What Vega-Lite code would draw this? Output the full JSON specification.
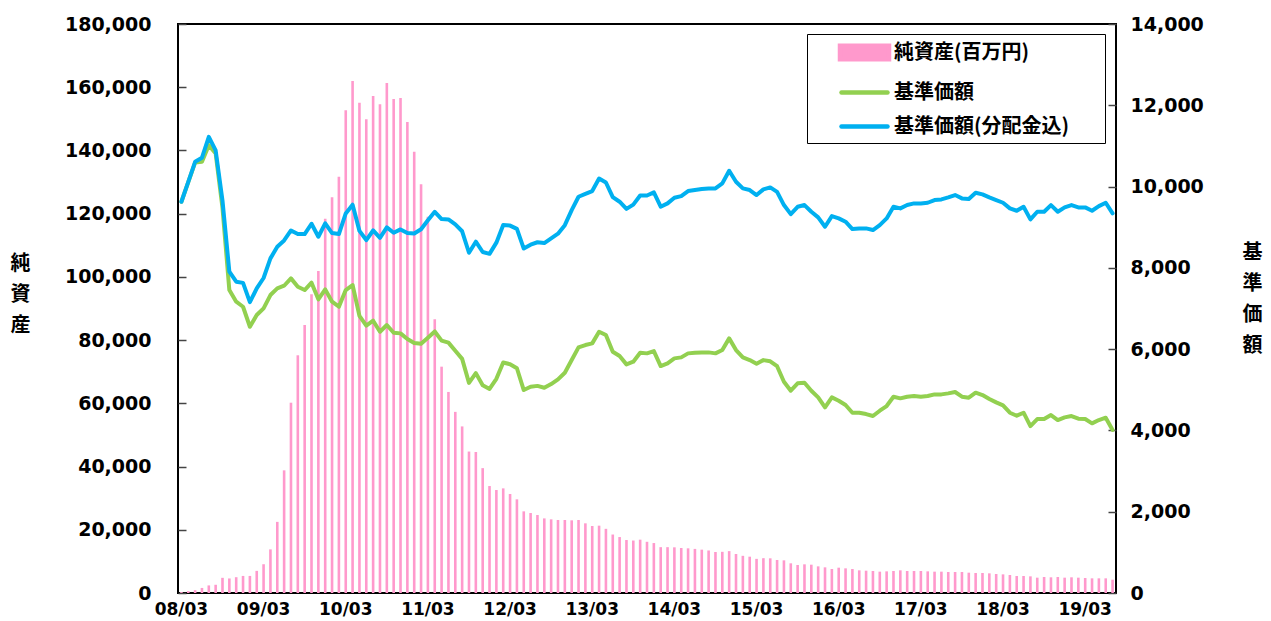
{
"$schema":"https://vega.github.io/schema/vega-lite/v6.json",
"width":938,"height":569,
"autosize":{"type":"none"},
"padding":{"left":178,"top":24,"right":155,"bottom":28},
"background":"white",
"config":{"view":{"stroke":"#000","strokeWidth":2},"axis":{"grid":false,"domain":false}},
"data":{"values":[
{"m":"08/03","純資産":300,"基準価額":9626,"基準価額(分配金込)":9626},
{"m":"08/04","純資産":600,"基準価額":10110,"基準価額(分配金込)":10118},
{"m":"08/05","純資産":900,"基準価額":10590,"基準価額(分配金込)":10610},
{"m":"08/06","純資産":1600,"基準価額":10610,"基準価額(分配金込)":10710},
{"m":"08/07","純資産":2400,"基準価額":11020,"基準価額(分配金込)":11225},
{"m":"08/08","純資産":2600,"基準価額":10815,"基準価額(分配金込)":10890},
{"m":"08/09","純資産":4800,"基準価額":9470,"基準価額(分配金込)":9650},
{"m":"08/10","純資産":4600,"基準価額":7454,"基準価額(分配金込)":7905},
{"m":"08/11","純資産":5000,"基準価額":7167,"基準価額(分配金込)":7660},
{"m":"08/12","純資産":5400,"基準価額":7043,"基準価額(分配金込)":7630},
{"m":"09/01","純資産":5400,"基準価額":6551,"基準価額(分配金込)":7155},
{"m":"09/02","純資産":7000,"基準価額":6839,"基準価額(分配金込)":7495},
{"m":"09/03","純資産":9100,"基準価額":7004,"基準価額(分配金込)":7750},
{"m":"09/04","純資産":13800,"基準価額":7331,"基準価額(分配金込)":8233},
{"m":"09/05","純資産":22500,"基準価額":7495,"基準価額(分配金込)":8520},
{"m":"09/06","純資産":38800,"基準価額":7560,"基準価額(分配金込)":8675},
{"m":"09/07","純資産":60200,"基準価額":7741,"基準価額(分配金込)":8920},
{"m":"09/08","純資産":75200,"基準価額":7536,"基準価額(分配金込)":8831},
{"m":"09/09","純資産":84800,"基準価額":7454,"基準価額(分配金込)":8831},
{"m":"09/10","純資産":94500,"基準価額":7634,"基準価額(分配金込)":9085},
{"m":"09/11","純資産":101900,"基準価額":7225,"基準価額(分配金込)":8766},
{"m":"09/12","純資産":118400,"基準価額":7470,"基準価額(分配金込)":9094},
{"m":"10/01","純資産":125200,"基準価額":7167,"基準価額(分配金込)":8856},
{"m":"10/02","純資産":131700,"基準価額":7044,"基準価額(分配金込)":8831},
{"m":"10/03","純資産":152700,"基準価額":7454,"基準価額(分配金込)":9340},
{"m":"10/04","純資産":162000,"基準価額":7577,"基準価額(分配金込)":9553},
{"m":"10/05","純資産":155100,"基準価額":6820,"基準価額(分配金込)":8910},
{"m":"10/06","純資産":149900,"基準価額":6580,"基準価額(分配金込)":8684},
{"m":"10/07","純資産":157200,"基準価額":6700,"基準価額(分配金込)":8920},
{"m":"10/08","純資産":154600,"基準価額":6428,"基準価額(分配金込)":8738},
{"m":"10/09","純資産":161300,"基準価額":6593,"基準価額(分配金込)":8996},
{"m":"10/10","純資産":156300,"基準価額":6404,"基準価額(分配金込)":8864},
{"m":"10/11","純資産":156600,"基準価額":6388,"基準価額(分配金込)":8946},
{"m":"10/12","純資産":149000,"基準価額":6250,"基準価額(分配金込)":8856},
{"m":"11/01","純資産":139600,"基準価額":6150,"基準価額(分配金込)":8845},
{"m":"11/02","純資産":129300,"基準価額":6130,"基準価額(分配金込)":8950},
{"m":"11/03","純資産":119000,"基準価額":6280,"基準価額(分配金込)":9170},
{"m":"11/04","純資産":86600,"基準価額":6435,"基準価額(分配金込)":9380},
{"m":"11/05","純資産":71600,"基準価額":6210,"基準価額(分配金込)":9200},
{"m":"11/06","純資産":63600,"基準価額":6160,"基準価額(分配金込)":9190},
{"m":"11/07","純資産":57300,"基準価額":5960,"基準価額(分配金込)":9070},
{"m":"11/08","純資産":52700,"基準価額":5760,"基準価額(分配金込)":8900},
{"m":"11/09","純資産":44750,"基準価額":5170,"基準価額(分配金込)":8372},
{"m":"11/10","純資産":44600,"基準価額":5410,"基準価額(分配金込)":8643},
{"m":"11/11","純資産":39500,"基準価額":5110,"基準価額(分配金込)":8390},
{"m":"11/12","純資産":33840,"基準価額":5020,"基準価額(分配金込)":8345},
{"m":"12/01","純資産":32580,"基準価額":5270,"基準価額(分配金込)":8620},
{"m":"12/02","純資産":33100,"基準価額":5670,"基準価額(分配金込)":9053},
{"m":"12/03","純資産":31310,"基準価額":5630,"基準価額(分配金込)":9040},
{"m":"12/04","純資産":29630,"基準価額":5530,"基準価額(分配金込)":8960},
{"m":"12/05","純資産":25830,"基準価額":4994,"基準価額(分配金込)":8475},
{"m":"12/06","純資産":25300,"基準価額":5076,"基準価額(分配金込)":8570},
{"m":"12/07","純資産":24670,"基準価額":5096,"基準価額(分配金込)":8630},
{"m":"12/08","純資産":23600,"基準価額":5051,"基準価額(分配金込)":8610},
{"m":"12/09","純資産":23300,"基準価額":5141,"基準価額(分配金込)":8725},
{"m":"12/10","純資産":23090,"基準価額":5257,"基準価額(分配金込)":8840},
{"m":"12/11","純資産":23090,"基準価額":5420,"基準価額(分配金込)":9050},
{"m":"12/12","純資産":22990,"基準価額":5732,"基準価額(分配金込)":9420},
{"m":"13/01","純資産":23090,"基準価額":6044,"基準価額(分配金込)":9750},
{"m":"13/02","純資産":22040,"基準価額":6101,"基準価額(分配金込)":9820},
{"m":"13/03","純資産":21190,"基準価額":6142,"基準価額(分配金込)":9890},
{"m":"13/04","純資産":21300,"基準価額":6429,"基準価額(分配金込)":10197},
{"m":"13/05","純資産":20300,"基準価額":6347,"基準価額(分配金込)":10100},
{"m":"13/06","純資産":18500,"基準価額":5937,"基準価額(分配金込)":9742},
{"m":"13/07","純資産":17700,"基準価額":5830,"基準価額(分配金込)":9627},
{"m":"13/08","純資産":16760,"基準価額":5625,"基準価額(分配金込)":9450},
{"m":"13/09","純資産":16600,"基準価額":5691,"基準価額(分配金込)":9557},
{"m":"13/10","純資産":16870,"基準価額":5912,"基準価額(分配金込)":9782},
{"m":"13/11","純資産":16200,"基準価額":5896,"基準価額(分配金込)":9780},
{"m":"13/12","純資産":15800,"基準価額":5953,"基準価額(分配金込)":9856},
{"m":"14/01","純資産":14500,"基準価額":5584,"基準価額(分配金込)":9504},
{"m":"14/02","純資産":14500,"基準価額":5650,"基準価額(分配金込)":9586},
{"m":"14/03","純資産":14450,"基準価額":5773,"基準価額(分配金込)":9725},
{"m":"14/04","純資産":14240,"基準価額":5797,"基準価額(分配金込)":9766},
{"m":"14/05","純資産":14130,"基準価額":5896,"基準価額(分配金込)":9889},
{"m":"14/06","純資産":13950,"基準価額":5912,"基準価額(分配金込)":9914},
{"m":"14/07","純資産":13710,"基準価額":5920,"基準価額(分配金込)":9938},
{"m":"14/08","純資産":13450,"基準価額":5920,"基準価額(分配金込)":9955},
{"m":"14/09","純資産":12970,"基準価額":5896,"基準価額(分配金込)":9955},
{"m":"14/10","純資産":13030,"基準価額":5978,"基準価額(分配金込)":10078},
{"m":"14/11","純資産":13250,"基準価額":6265,"基準価額(分配金込)":10389},
{"m":"14/12","純資産":12340,"基準価額":5978,"基準価額(分配金込)":10119},
{"m":"15/01","純資産":11760,"基準価額":5797,"基準価額(分配金込)":9955},
{"m":"15/02","純資産":11490,"基準価額":5732,"基準価額(分配金込)":9914},
{"m":"15/03","純資産":10800,"基準価額":5640,"基準価額(分配金込)":9791},
{"m":"15/04","純資産":11020,"基準価額":5730,"基準価額(分配金込)":9930},
{"m":"15/05","純資産":10970,"基準価額":5700,"基準価額(分配金込)":9980},
{"m":"15/06","純資産":10440,"基準価額":5580,"基準価額(分配金込)":9870},
{"m":"15/07","純資産":10330,"基準価額":5199,"基準価額(分配金込)":9545},
{"m":"15/08","純資産":9390,"基準価額":4977,"基準価額(分配金込)":9323},
{"m":"15/09","純資産":8860,"基準価額":5158,"基準価額(分配金込)":9503},
{"m":"15/10","純資産":9070,"基準価額":5174,"基準価額(分配金込)":9545},
{"m":"15/11","純資産":8960,"基準価額":4977,"基準価額(分配金込)":9381},
{"m":"15/12","純資産":8430,"基準価額":4813,"基準価額(分配金込)":9242},
{"m":"16/01","純資産":8120,"基準価額":4567,"基準価額(分配金込)":9012},
{"m":"16/02","純資産":7590,"基準価額":4813,"基準価額(分配金込)":9274},
{"m":"16/03","純資産":8010,"基準価額":4731,"基準価額(分配金込)":9217},
{"m":"16/04","純資産":7800,"基準価額":4625,"基準価額(分配金込)":9135},
{"m":"16/05","純資産":7590,"基準価額":4436,"基準価額(分配金込)":8954},
{"m":"16/06","純資産":7170,"基準価額":4436,"基準価額(分配金込)":8971},
{"m":"16/07","純資産":7060,"基準価額":4403,"基準価額(分配金込)":8971},
{"m":"16/08","純資産":6960,"基準価額":4354,"基準価額(分配金込)":8930},
{"m":"16/09","純資産":6750,"基準価額":4485,"基準価額(分配金込)":9053},
{"m":"16/10","純資産":6850,"基準価額":4600,"基準価額(分配金込)":9217},
{"m":"16/11","純資産":6960,"基準価額":4830,"基準価額(分配金込)":9504},
{"m":"16/12","純資産":7170,"基準価額":4789,"基準価額(分配金込)":9463},
{"m":"17/01","純資産":6960,"基準価額":4830,"基準価額(分配金込)":9545},
{"m":"17/02","純資産":6960,"基準価額":4846,"基準価額(分配金込)":9586},
{"m":"17/03","純資産":6960,"基準価額":4830,"基準価額(分配金込)":9586},
{"m":"17/04","純資産":6850,"基準価額":4846,"基準価額(分配金込)":9602},
{"m":"17/05","純資産":6750,"基準価額":4887,"基準価額(分配金込)":9668},
{"m":"17/06","純資産":6750,"基準価額":4887,"基準価額(分配金込)":9684},
{"m":"17/07","純資産":6640,"基準価額":4912,"基準価額(分配金込)":9733},
{"m":"17/08","純資産":6640,"基準価額":4945,"基準価額(分配金込)":9791},
{"m":"17/09","純資産":6640,"基準価額":4830,"基準価額(分配金込)":9709},
{"m":"17/10","純資産":6430,"基準価額":4805,"基準価額(分配金込)":9692},
{"m":"17/11","純資産":6330,"基準価額":4928,"基準価額(分配金込)":9848},
{"m":"17/12","純資産":6330,"基準価額":4871,"基準価額(分配金込)":9807},
{"m":"18/01","純資産":6220,"基準価額":4772,"基準価額(分配金込)":9733},
{"m":"18/02","純資産":6010,"基準価額":4690,"基準価額(分配金込)":9668},
{"m":"18/03","純資産":5900,"基準価額":4617,"基準価額(分配金込)":9602},
{"m":"18/04","純資産":5690,"基準価額":4436,"基準価額(分配金込)":9463},
{"m":"18/05","純資産":5380,"基準価額":4362,"基準価額(分配金込)":9405},
{"m":"18/06","純資産":5380,"基準価額":4436,"基準価額(分配金込)":9504},
{"m":"18/07","純資産":5270,"基準価額":4108,"基準価額(分配金込)":9192},
{"m":"18/08","純資産":4850,"基準価額":4280,"基準価額(分配金込)":9381},
{"m":"18/09","純資産":5060,"基準価額":4280,"基準価額(分配金込)":9381},
{"m":"18/10","純資産":4960,"基準価額":4379,"基準価額(分配金込)":9545},
{"m":"18/11","純資産":5060,"基準価額":4256,"基準価額(分配金込)":9381},
{"m":"18/12","純資産":4850,"基準価額":4321,"基準価額(分配金込)":9487},
{"m":"19/01","純資産":4960,"基準価額":4354,"基準価額(分配金込)":9545},
{"m":"19/02","純資産":4850,"基準価額":4289,"基準価額(分配金込)":9487},
{"m":"19/03","純資産":4740,"基準価額":4280,"基準価額(分配金込)":9487},
{"m":"19/04","純資産":4640,"基準価額":4174,"基準価額(分配金込)":9405},
{"m":"19/05","純資産":4640,"基準価額":4256,"基準価額(分配金込)":9520},
{"m":"19/06","純資産":4640,"基準価額":4313,"基準価額(分配金込)":9602},
{"m":"19/07","純資産":4210,"基準価額":4010,"基準価額(分配金込)":9340}
]},
"encoding":{"x":{"field":"m","type":"ordinal","sort":null,"scale":{"paddingInner":0.62,"paddingOuter":0.31},
"axis":{"values":["08/03","09/03","10/03","11/03","12/03","13/03","14/03","15/03","16/03","17/03","18/03","19/03"],"labelAngle":0,"ticks":false,"domain":false,"labelFont":"DejaVu Sans","labelFontSize":17,"labelFontWeight":"bold","labelColor":"#000","labelPadding":8,"title":null}}},
"layer":[
{"mark":{"type":"bar","color":"#FF99CC"},
"encoding":{
"y":{"field":"純資産","type":"quantitative","scale":{"domain":[0,180000],"nice":false},
"axis":{"orient":"left","values":[0,20000,40000,60000,80000,100000,120000,140000,160000,180000],"format":",.0f","labelFont":"DejaVu Sans","labelFontSize":19,"labelFontWeight":"bold","labelColor":"#000","labelFlush":false,"labelOverlap":false,"tickSize":-8,"tickColor":"#444","tickWidth":1.5,"labelPadding":35,
"title":["純","資","産"],"titleAngle":0,"titleFont":"Noto Sans CJK JP","titleFontSize":20,"titleFontWeight":"bold","titleColor":"#000","titleLineHeight":31,"titleX":-158,"titleY":239,"titleAlign":"center","titleBaseline":"middle"}},
"color":{"datum":"純資産(百万円)","type":"nominal",
"scale":{"domain":["純資産(百万円)","基準価額","基準価額(分配金込)"],"range":["#FF99CC","#92D050","#00B0F0"]},
"legend":{"orient":"none","legendX":629,"legendY":10,"title":"⠀","titleOrient":"right","titlePadding":15,"titleFontSize":20,"titleColor":"#fff","direction":"vertical","fillColor":"#fff","strokeColor":"#000","padding":6,"rowPadding":11,"symbolSize":400,"symbolStrokeWidth":4,"symbolOffset":39,"labelOffset":17,"labelFont":"Noto Sans CJK JP","labelFontSize":20,"labelFontWeight":"bold","labelColor":"#000","labelLimit":400,
"encode":{"symbols":{"update":{
"shape":{"signal":"datum.value === '純資産(百万円)' ? 'M-2.45,-0.68H2.45V0.68H-2.45Z' : 'M-2.3,0H2.3'"},
"fill":{"signal":"datum.value === '純資産(百万円)' ? '#FF99CC' : 'transparent'"},
"stroke":{"signal":"datum.value === '純資産(百万円)' ? 'transparent' : (datum.value === '基準価額' ? '#92D050' : '#00B0F0')"},
"strokeWidth":{"value":4.5},"strokeCap":{"value":"round"},"opacity":{"value":1},"fillOpacity":{"value":1},"strokeOpacity":{"value":1}}}}}}}},
{"transform":[{"fold":["基準価額","基準価額(分配金込)"],"as":["series","v"]}],
"mark":{"type":"line","strokeWidth":4,"strokeJoin":"round","strokeCap":"round"},
"encoding":{
"y":{"field":"v","type":"quantitative","scale":{"domain":[0,14000],"nice":false},
"axis":{"orient":"right","values":[0,2000,4000,6000,8000,10000,12000,14000],"format":",.0f","labelFont":"DejaVu Sans","labelFontSize":19,"labelFontWeight":"bold","labelColor":"#000","labelFlush":false,"labelOverlap":false,"tickSize":-8,"tickColor":"#444","tickWidth":1.5,"labelPadding":22,
"title":["基","準","価","額"],"titleAngle":0,"titleFont":"Noto Sans CJK JP","titleFontSize":20,"titleFontWeight":"bold","titleColor":"#000","titleLineHeight":31,"titleX":136,"titleY":228,"titleAlign":"center","titleBaseline":"middle"}},
"color":{"field":"series","type":"nominal",
"scale":{"domain":["純資産(百万円)","基準価額","基準価額(分配金込)"],"range":["#FF99CC","#92D050","#00B0F0"]},
"legend":{"orient":"none","legendX":629,"legendY":10,"title":"⠀","titleOrient":"right","titlePadding":15,"titleFontSize":20,"titleColor":"#fff","direction":"vertical","fillColor":"#fff","strokeColor":"#000","padding":6,"rowPadding":11,"symbolSize":400,"symbolStrokeWidth":4,"symbolOffset":39,"labelOffset":17,"labelFont":"Noto Sans CJK JP","labelFontSize":20,"labelFontWeight":"bold","labelColor":"#000","labelLimit":400,
"encode":{"symbols":{"update":{
"shape":{"signal":"datum.value === '純資産(百万円)' ? 'M-2.45,-0.68H2.45V0.68H-2.45Z' : 'M-2.3,0H2.3'"},
"fill":{"signal":"datum.value === '純資産(百万円)' ? '#FF99CC' : 'transparent'"},
"stroke":{"signal":"datum.value === '純資産(百万円)' ? 'transparent' : (datum.value === '基準価額' ? '#92D050' : '#00B0F0')"},
"strokeWidth":{"value":4.5},"strokeCap":{"value":"round"},"opacity":{"value":1},"fillOpacity":{"value":1},"strokeOpacity":{"value":1}}}}}}}}
],
"resolve":{"scale":{"y":"independent"}}
}
